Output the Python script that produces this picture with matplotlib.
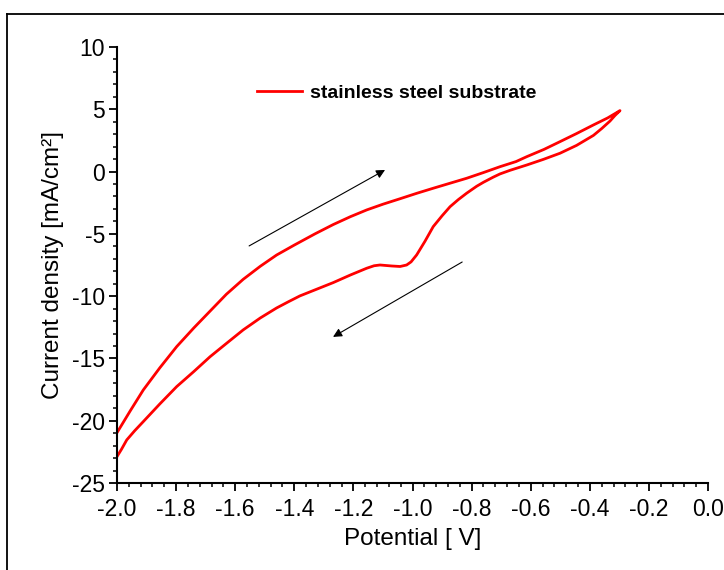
import numpy as np
import matplotlib
matplotlib.use('Agg')
import matplotlib.pyplot as plt
from matplotlib.ticker import MultipleLocator, FormatStrFormatter
from matplotlib.lines import Line2D

plt.rcParams['font.family'] = ['Liberation Sans', 'DejaVu Sans']
plt.rcParams['axes.unicode_minus'] = False

# forward scan (upper branch), -2.0 V -> -0.3 V
fwd_v = [-2.000, -1.955, -1.911, -1.855, -1.798, -1.740, -1.685, -1.630, -1.573, -1.515,
         -1.460, -1.400, -1.330, -1.268, -1.210, -1.155, -1.100, -1.042, -0.985,
         -0.930, -0.875, -0.817, -0.760, -0.704, -0.650, -0.613, -0.555, -0.501, -0.445,
         -0.388, -0.340, -0.298]
fwd_j = [-20.96, -19.20, -17.53, -15.75, -14.05, -12.55, -11.20, -9.85, -8.65, -7.60,
         -6.70, -5.90, -5.00, -4.25, -3.62, -3.08, -2.62, -2.18, -1.74,
         -1.34, -0.95, -0.54, -0.08, 0.39, 0.80, 1.20, 1.78, 2.40, 3.05,
         3.74, 4.30, 4.89]

# reverse scan (lower branch), -0.3 V -> -2.0 V
rev_v = [-0.298, -0.315, -0.332, -0.360, -0.388, -0.445, -0.501, -0.557, -0.613, -0.670,
         -0.704, -0.727, -0.760, -0.783, -0.817, -0.845, -0.873, -0.900, -0.930, -0.958,
         -0.986, -1.005, -1.020, -1.042, -1.070, -1.110, -1.130, -1.155, -1.210, -1.268,
         -1.325, -1.381, -1.420, -1.460, -1.515, -1.573, -1.630, -1.685, -1.740, -1.798,
         -1.855, -1.911, -1.940, -1.967, -1.985, -2.000]
rev_j = [4.89, 4.50, 4.05, 3.45, 2.90, 2.10, 1.47, 0.98, 0.53, 0.10,
         -0.19, -0.45, -0.86, -1.18, -1.74, -2.25, -2.82, -3.55, -4.42, -5.60,
         -6.69, -7.25, -7.50, -7.62, -7.58, -7.50, -7.56, -7.76, -8.30, -8.91,
         -9.45, -9.98, -10.45, -10.95, -11.75, -12.71, -13.80, -14.86, -16.05, -17.26,
         -18.65, -20.07, -20.80, -21.54, -22.30, -22.88]

# scan direction arrows (start, end)
arrow_fwd = ((-1.553, -5.97), (-1.093, 0.13))
arrow_rev = ((-0.832, -7.26), (-1.269, -13.27))

fig = plt.figure(figsize=(7.24, 5.70), dpi=100)
ax = fig.add_axes([0.1616, 0.1526, 0.8164, 0.765])

v = fwd_v + rev_v
j = fwd_j + rev_j
ax.plot(v, j, color='#ff0000', lw=2, label='stainless steel substrate')

for start, end in (arrow_fwd, arrow_rev):
    ax.annotate('', xy=end, xytext=start,
                arrowprops=dict(arrowstyle='-|>', color='black', lw=0.8,
                                mutation_scale=13, shrinkA=0, shrinkB=0))

ax.set_xlim(-2.0, 0.0)
ax.set_ylim(-25, 10)
ax.xaxis.set_major_locator(MultipleLocator(0.2))
ax.xaxis.set_minor_locator(MultipleLocator(0.04))
ax.yaxis.set_major_locator(MultipleLocator(5))
ax.yaxis.set_minor_locator(MultipleLocator(1))
ax.xaxis.set_major_formatter(FormatStrFormatter('%.1f'))

for s in ['top', 'right']:
    ax.spines[s].set_visible(False)
for s in ['left', 'bottom']:
    ax.spines[s].set_linewidth(1.5)
ax.tick_params(which='major', length=5.5, width=1.3, labelsize=16.5, direction='out', pad=3)
ax.tick_params(which='minor', length=3, width=1.1, direction='out')
ax.tick_params(axis='x', which='major', pad=5)

ax.set_xlabel('Potential [ V]', fontsize=17.5, labelpad=5)
ax.set_ylabel('Current density [mA/cm²]', fontsize=17.5, labelpad=6)

leg = ax.legend(loc='center left', bbox_to_anchor=(0.237, 0.894), frameon=False,
                handlelength=2.3, handletextpad=0.4, borderpad=0, borderaxespad=0,
                prop={'weight': 'bold', 'size': 14})

# outer frame edges visible at top and left
fig.add_artist(Line2D([0.0097, 1.0], [0.9754, 0.9754], color='black', lw=1.3))
fig.add_artist(Line2D([0.0097, 0.0097], [0.0, 0.9754], color='black', lw=1.3))

fig.savefig('out.png', dpi=100)
